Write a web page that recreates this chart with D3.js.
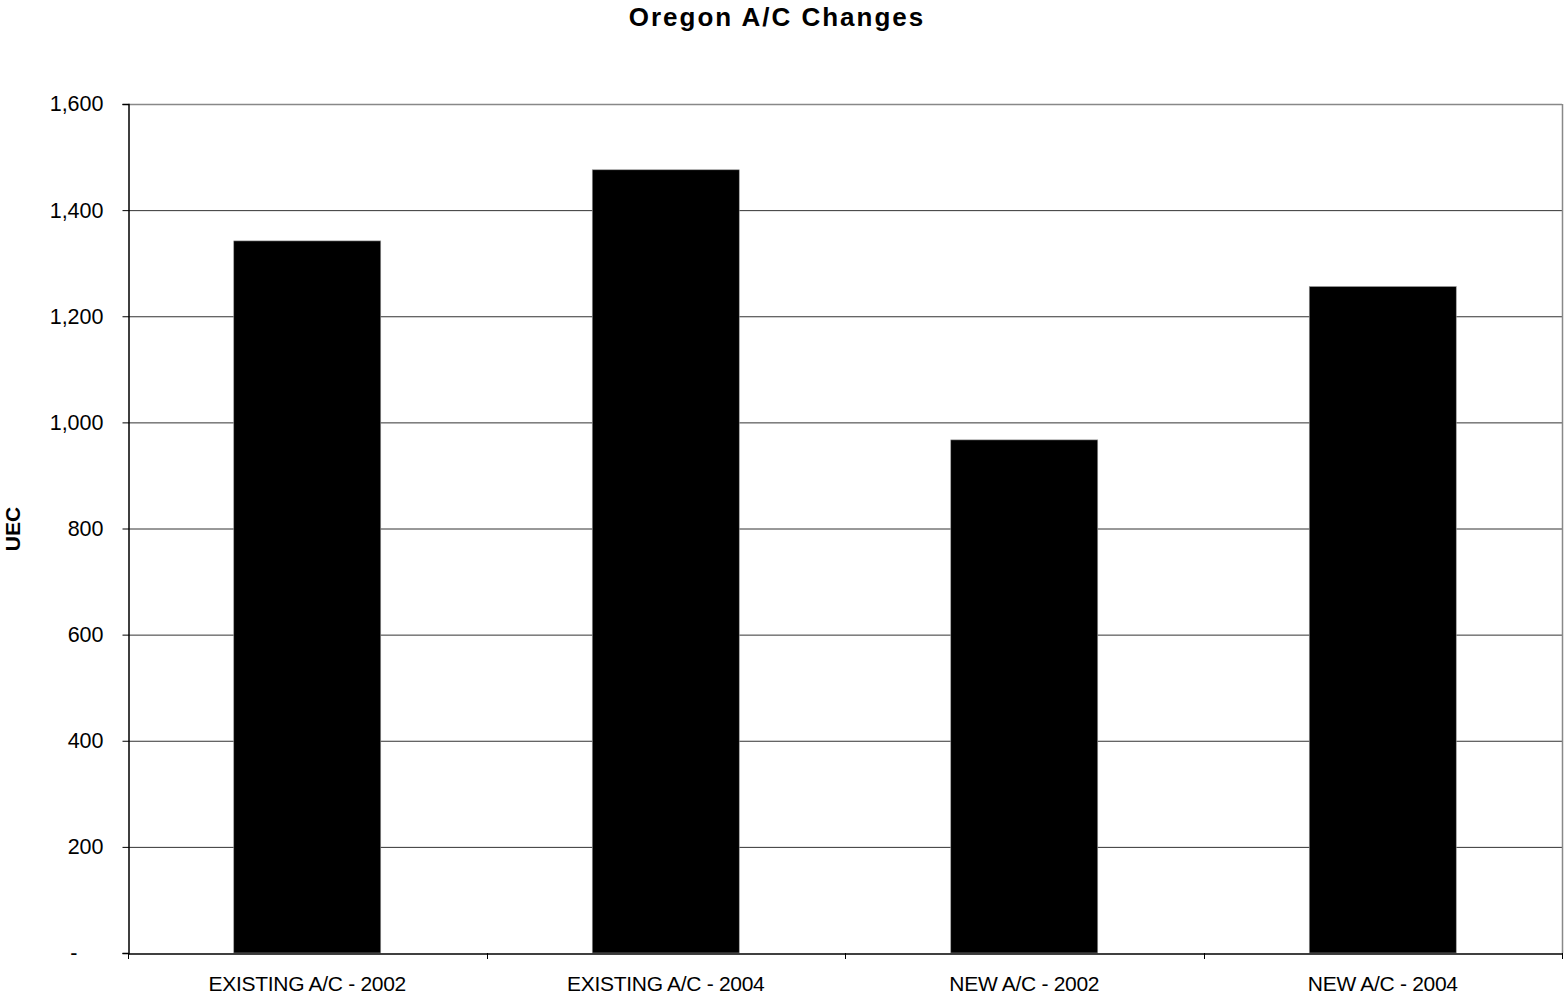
<!DOCTYPE html>
<html><head><meta charset="utf-8">
<script src="https://cdn.jsdelivr.net/npm/d3@7"></script>
<style>body{margin:0;background:#fff}svg{display:block}text{font-family:"Liberation Sans",Arial,sans-serif}</style>
</head><body>
<script>
const categories = ["EXISTING A/C - 2002","EXISTING A/C - 2004","NEW A/C - 2002","NEW A/C - 2004"];
const values = [1342, 1476, 967, 1256];
const yTicks = [0,200,400,600,800,1000,1200,1400,1600];
const title = "Oregon A/C Changes";
const yLabel = "UEC";

const W=1564,H=1000;
const m={left:128,right:2,top:104,bottom:47};
const svg=d3.select("body").append("svg").attr("width",W).attr("height",H);
const x=d3.scaleBand().domain(categories).range([m.left,W-m.right]).padding(0);
const y=d3.scaleLinear().domain([0,1600]).range([H-m.bottom,m.top]);
const fmt=v=>v===0?"-":d3.format(",")(v);

// gridlines
svg.append("g").selectAll("line").data(yTicks.filter(t=>t>0&&t<1600)).join("line")
 .attr("x1",m.left).attr("x2",W-m.right).attr("y1",d=>y(d)+0.5).attr("y2",d=>y(d)+0.5)
 .attr("stroke","#333").attr("stroke-width",1);
// top and right border
svg.append("line").attr("x1",m.left).attr("x2",W-m.right).attr("y1",y(1600)+0.5).attr("y2",y(1600)+0.5).attr("stroke","#888").attr("stroke-width",1.5);
svg.append("line").attr("x1",W-m.right+0.5).attr("x2",W-m.right+0.5).attr("y1",y(1600)).attr("y2",y(0)).attr("stroke","#888").attr("stroke-width",1.5);

// bars
const bw=x.bandwidth()*0.41;
svg.append("g").selectAll("rect").data(values).join("rect")
 .attr("x",(d,i)=>x(categories[i])+(x.bandwidth()-bw)/2)
 .attr("width",bw)
 .attr("y",d=>y(d)).attr("height",d=>y(0)-y(d))
 .attr("fill","#000").attr("stroke","#999").attr("stroke-width",0.6);

// y axis
const ya=svg.append("g").attr("transform",`translate(${m.left+0.5},0)`)
 .call(d3.axisLeft(y).tickValues(yTicks).tickFormat(fmt).tickSize(6).tickPadding(19));
ya.select(".domain").attr("stroke","#000").attr("stroke-width",1.5);
ya.selectAll(".tick line").attr("stroke","#000");
ya.selectAll("text").attr("font-size",21.5).attr("fill","#000").attr("font-family","Liberation Sans, Arial, sans-serif");
ya.selectAll(".tick").filter(d=>d===0).select("text").attr("dx",-26);

// x axis
const xa=svg.append("g").attr("transform",`translate(0,${y(0)+0.5})`)
 .call(d3.axisBottom(x).tickSize(0).tickPadding(23));
xa.select(".domain").attr("stroke","#000").attr("stroke-width",1.5);
xa.selectAll("text").attr("font-size",21).attr("fill","#000").attr("letter-spacing","-0.3px").attr("font-family","Liberation Sans, Arial, sans-serif");
// category boundary ticks
const bounds=categories.map(c=>x(c)).concat([x(categories[categories.length-1])+x.bandwidth()]);
svg.append("g").selectAll("line").data(bounds).join("line")
 .attr("x1",d=>Math.round(d)+0.5).attr("x2",d=>Math.round(d)+0.5)
 .attr("y1",y(0)).attr("y2",y(0)+6).attr("stroke","#000").attr("stroke-width",1);

// title
svg.append("text").attr("x",777).attr("y",26).attr("text-anchor","middle")
 .attr("font-size",26).attr("font-weight","bold").attr("letter-spacing","2px").text(title);
// y label
svg.append("text").attr("transform","translate(20,529) rotate(-90)").attr("text-anchor","middle")
 .attr("font-size",21).attr("font-weight","bold").text(yLabel);
</script>
</body></html>
